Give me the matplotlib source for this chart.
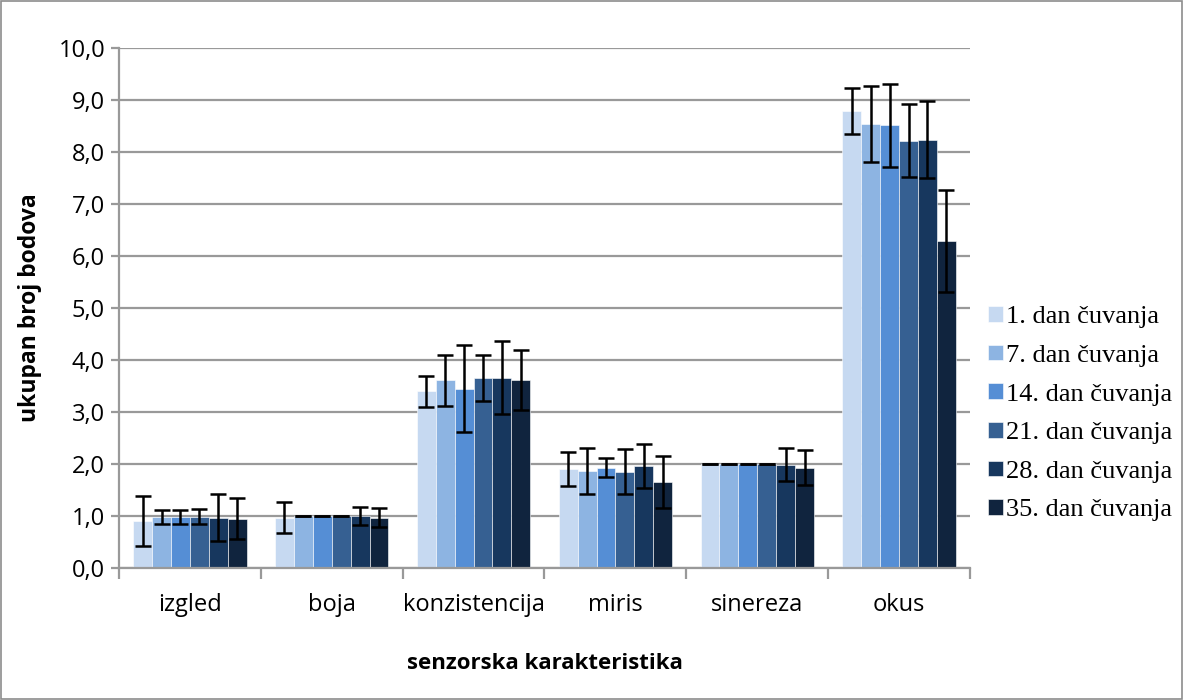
import matplotlib
matplotlib.use('Agg')
from matplotlib import pyplot as plt
from matplotlib.patches import Rectangle
import numpy as np

categories = ['izgled', 'boja', 'konzistencija', 'miris', 'sinereza', 'okus']
series = ['1. dan čuvanja', '7. dan čuvanja', '14. dan čuvanja',
          '21. dan čuvanja', '28. dan čuvanja', '35. dan čuvanja']

# mean scores per storage day (rows) for each characteristic (cols)
means = [
    [0.91, 0.97, 3.40, 1.91, 2.00, 8.79],
    [0.98, 1.00, 3.61, 1.87, 2.00, 8.54],
    [0.98, 1.00, 3.45, 1.93, 2.00, 8.51],
    [0.99, 1.00, 3.66, 1.85, 2.00, 8.22],
    [0.97, 1.00, 3.66, 1.96, 1.99, 8.24],
    [0.95, 0.97, 3.61, 1.65, 1.93, 6.29],
]
errors = [
    [0.48, 0.30, 0.30, 0.33, 0.00, 0.45],
    [0.14, 0.00, 0.49, 0.44, 0.00, 0.73],
    [0.14, 0.00, 0.83, 0.18, 0.00, 0.80],
    [0.15, 0.00, 0.44, 0.43, 0.00, 0.71],
    [0.46, 0.17, 0.70, 0.42, 0.32, 0.74],
    [0.39, 0.18, 0.58, 0.50, 0.33, 0.98],
]
colors = ['#C6D9F1', '#8DB4E2', '#558ED5', '#366092', '#17375E', '#10243E']

fig = plt.figure(figsize=(11.84, 7.0), dpi=100)
ax = fig.add_axes([119/1184, 1-568/700, (970-119)/1184, (568-48)/700])

x = np.arange(len(categories))
w = 0.8/6
for i in range(6):
    pos = x - 0.4 + w*(i+0.5)
    ax.bar(pos, means[i], width=w, color=colors[i], label=series[i],
           edgecolor='white', linewidth=0.4, zorder=2)
    ax.errorbar(pos, means[i], yerr=errors[i], fmt='none', ecolor='black',
                elinewidth=1.8, capsize=5.5, capthick=1.8, zorder=3)

ax.set_xlim(-0.5, 5.5)
ax.set_ylim(0, 10)
ax.set_yticks(np.arange(0, 10.01, 1))
ax.set_yticklabels(['{:.1f}'.format(v).replace('.', ',') for v in np.arange(0, 10.01, 1)],
                   fontsize=17, family='Open Sans')
ax.yaxis.grid(True, color='#999999', linewidth=1.6, zorder=0)
ax.set_axisbelow(True)

ax.set_xticks(x)
ax.set_xticklabels(categories, fontsize=17, family='Open Sans')
ax.tick_params(axis='x', length=0, pad=18)
ax.set_xticks(np.arange(-0.5, 6, 1), minor=True)
ax.tick_params(axis='x', which='minor', length=8, width=1.6, color='#999999')
ax.tick_params(axis='y', length=6, width=1.6, color='#999999', pad=4)

for s in ['top', 'right']:
    ax.spines[s].set_visible(False)
ax.spines['left'].set_color('#999999')
ax.spines['left'].set_linewidth(1.6)
ax.spines['bottom'].set_color('#999999')
ax.spines['bottom'].set_linewidth(1.6)

ax.set_ylabel('ukupan broj bodova', fontsize=16.5, fontweight='bold', family='Open Sans', labelpad=12)
ax.set_xlabel('senzorska karakteristika', fontsize=16, fontweight='bold', family='Open Sans', labelpad=26)

fig.legend(loc='center left', bbox_to_anchor=(988/1184, 0.409), frameon=False,
           prop={'family': 'Liberation Serif', 'size': 19}, handlelength=0.55,
           handleheight=0.55, handletextpad=0.15, labelspacing=0.62, borderpad=0,
           borderaxespad=0)

fig.patches.append(Rectangle((0.001, 0.002), 0.997, 0.996, transform=fig.transFigure,
                             fill=False, edgecolor='#8c8c8c', linewidth=1.2))

fig.savefig('out.png', dpi=100)
